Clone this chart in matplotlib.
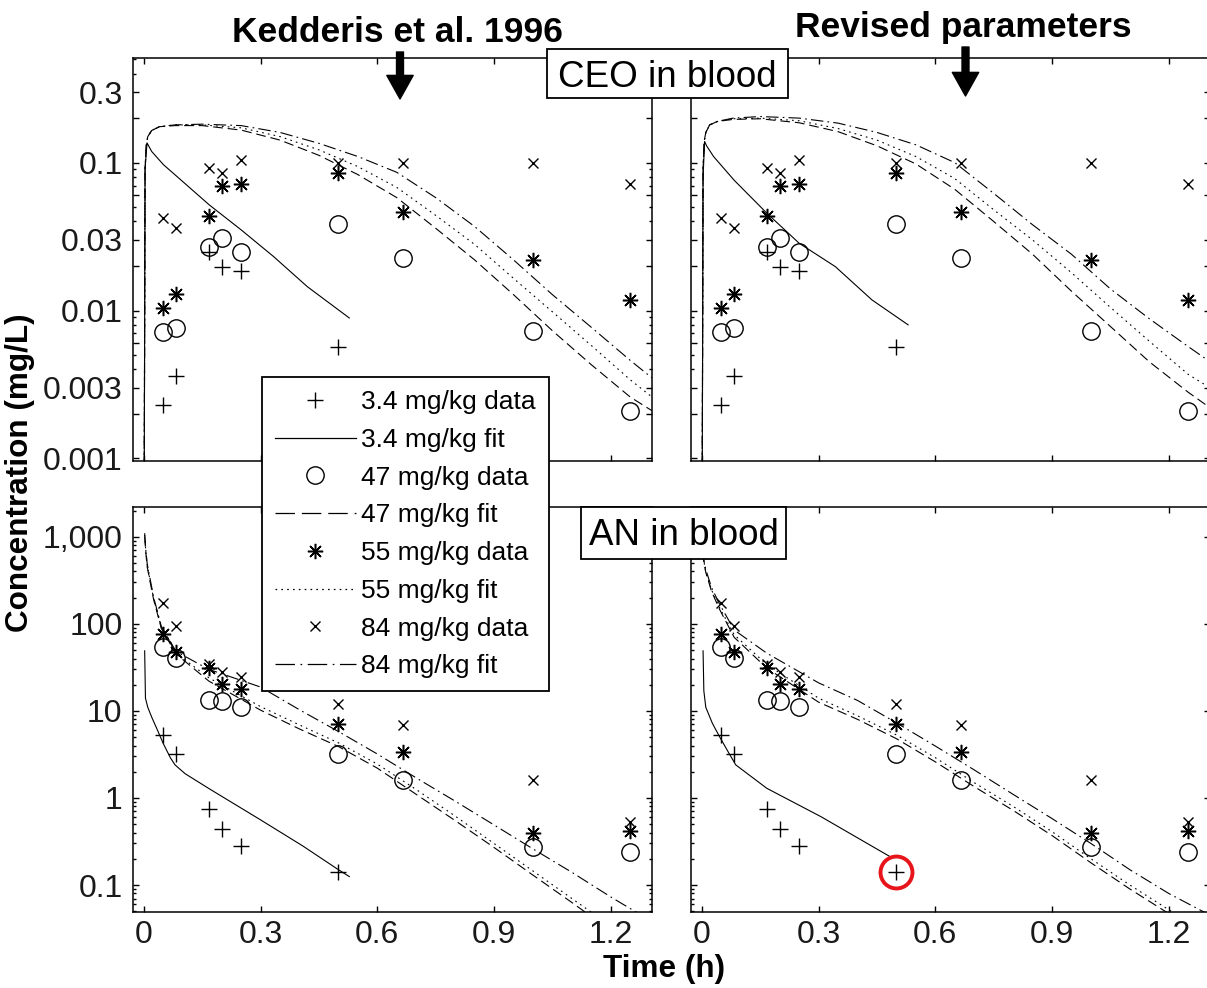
import numpy as np
import matplotlib
matplotlib.use('Agg')
import matplotlib.pyplot as plt
import matplotlib.patches as mpatches
from matplotlib.lines import Line2D
from matplotlib.ticker import LogLocator, NullFormatter

# sampling times of the measured data (h)
t_data = [0.05, 0.083, 0.167, 0.2, 0.25, 0.5, 0.667, 1.0, 1.25]

# CEO in blood, measured (mg/L)
ceo_34 = [0.0023, 0.0036, 0.025, 0.0198, 0.0186, 0.0057]
ceo_47 = [0.0072, 0.0076, 0.027, 0.031, 0.0248, 0.0384, 0.0226, 0.0073, 0.0021]
ceo_55 = [0.0104, 0.013, 0.0437, 0.069, 0.0714, 0.085, 0.0462, 0.022, 0.0118]
ceo_84 = [0.042, 0.036, 0.092, 0.085, 0.104, 0.099, 0.1, 0.1, 0.0714]

# AN in blood, measured (mg/L)
an_34 = [5.26, 3.24, 0.746, 0.44, 0.283, 0.14]
an_47 = [54, 40.7, 13.4, 12.9, 11.1, 3.18, 1.63, 0.276, 0.242]
an_55 = [76.8, 47.3, 31.3, 20.6, 17.7, 7.16, 3.38, 0.393, 0.42]
an_84 = [174, 95.7, 34.9, 28, 24.4, 12.1, 6.85, 1.63, 0.53]

# ---- model fits, Kedderis et al. 1996 parameters ----
t_ceo34_k = [0, 0.003, 0.008, 0.02, 0.05, 0.095, 0.168, 0.25, 0.333, 0.42, 0.5, 0.528]
ceo34_k = [1e-4, 0.09, 0.136, 0.119, 0.097, 0.0764, 0.0518, 0.0351, 0.0232, 0.0145, 0.0101, 0.0089]

t_ceo = [0, 0.003, 0.006, 0.01, 0.02, 0.04, 0.08, 0.15, 0.25, 0.35, 0.45, 0.55,
         0.65, 0.75, 0.85, 0.95, 1.05, 1.15, 1.25, 1.306]
ceo47_k = [1e-4, 0.09, 0.13, 0.15, 0.165, 0.175, 0.178, 0.178, 0.166, 0.142, 0.112, 0.083,
           0.058, 0.036, 0.022, 0.0128, 0.0073, 0.0043, 0.0026, 0.0021]
ceo55_k = [1e-4, 0.09, 0.13, 0.15, 0.165, 0.175, 0.18, 0.18, 0.172, 0.15, 0.122, 0.094,
           0.068, 0.044, 0.028, 0.0165, 0.0098, 0.0058, 0.0034, 0.0026]
ceo84_k = [1e-4, 0.09, 0.13, 0.15, 0.165, 0.175, 0.18, 0.182, 0.178, 0.16, 0.135, 0.11,
           0.086, 0.058, 0.037, 0.022, 0.0128, 0.0077, 0.0046, 0.0035]

t_an34_k = [0.002, 0.004, 0.01, 0.02, 0.035, 0.05, 0.068, 0.08, 0.106, 0.17, 0.3, 0.409, 0.5, 0.528]
an34_k = [49, 14, 11, 8.5, 6.0, 4.2, 2.9, 2.4, 1.9, 1.26, 0.56, 0.28, 0.15, 0.125]

t_an_k = [0.002, 0.005, 0.0085, 0.025, 0.045, 0.083, 0.167, 0.3, 0.4, 0.5, 0.6, 0.7,
          0.8, 0.9, 1.0, 1.1, 1.2, 1.306]
an47_k = [1000, 650, 450, 190, 88, 45, 22, 10.2, 6.2, 3.9, 2.2, 1.1,
          0.55, 0.27, 0.13, 0.063, 0.03, 0.014]
an55_k = [1050, 680, 470, 195, 90, 46, 24, 11.2, 6.9, 4.3, 2.45, 1.25,
          0.62, 0.3, 0.145, 0.07, 0.034, 0.016]
an84_k = [1100, 700, 490, 202, 93, 48, 30, 18.8, 10.3, 5.8, 3.2, 1.7,
          0.92, 0.49, 0.26, 0.14, 0.073, 0.038]

# ---- model fits, revised parameters ----
t_ceo34_r = [0, 0.003, 0.007, 0.012, 0.03, 0.083, 0.167, 0.25, 0.343, 0.437, 0.53]
ceo34_r = [1e-4, 0.08, 0.139, 0.13, 0.11, 0.076, 0.0455, 0.0285, 0.0198, 0.0118, 0.008]

ceo47_r = [1e-4, 0.09, 0.14, 0.16, 0.18, 0.19, 0.196, 0.198, 0.186, 0.162, 0.13, 0.098,
           0.066, 0.04, 0.024, 0.0135, 0.0078, 0.0045, 0.0028, 0.0022]
ceo55_r = [1e-4, 0.09, 0.14, 0.16, 0.18, 0.19, 0.198, 0.2, 0.192, 0.17, 0.142, 0.11,
           0.078, 0.048, 0.03, 0.018, 0.0105, 0.0062, 0.0037, 0.003]
ceo84_r = [1e-4, 0.09, 0.14, 0.16, 0.18, 0.19, 0.2, 0.205, 0.2, 0.185, 0.16, 0.132,
           0.1, 0.062, 0.038, 0.024, 0.014, 0.0088, 0.0057, 0.0045]

t_an34_r = [0.003, 0.005, 0.01, 0.027, 0.046, 0.069, 0.087, 0.167, 0.306, 0.49]
an34_r = [49, 17, 11, 7.2, 5.0, 3.3, 2.4, 1.29, 0.61, 0.204]

t_an_r = [0.002, 0.005, 0.01, 0.025, 0.045, 0.083, 0.167, 0.3, 0.4, 0.5, 0.6, 0.7,
          0.8, 0.9, 1.0, 1.1, 1.2, 1.306]
an47_r = [660, 510, 390, 235, 148, 70, 31, 12.6, 8.0, 4.8, 2.6, 1.35,
          0.72, 0.37, 0.18, 0.09, 0.047, 0.024]
an55_r = [680, 530, 400, 245, 155, 75, 34, 14, 8.8, 5.3, 2.9, 1.5,
          0.8, 0.41, 0.2, 0.1, 0.052, 0.027]
an84_r = [700, 550, 420, 260, 170, 85, 46, 21, 13.2, 7.3, 3.95, 2.1,
          1.1, 0.58, 0.3, 0.15, 0.08, 0.045]

x_ticks = [0, 0.3, 0.6, 0.9, 1.2]
x_ticklabels = ['0', '0.3', '0.6', '0.9', '1.2']
ceo_ticks = [0.001, 0.002, 0.003, 0.006, 0.01, 0.02, 0.03, 0.06, 0.1, 0.2, 0.3]
ceo_ticklabels = ['0.001', '', '0.003', '', '0.01', '', '0.03', '', '0.1', '', '0.3']
an_ticks = [0.1, 1, 10, 100, 1000]
an_ticklabels = ['0.1', '1', '10', '100', '1,000']

plt.rcParams['font.family'] = ['Liberation Sans', 'DejaVu Sans']
plt.rcParams['lines.scale_dashes'] = False

W, H = 1207, 988
fig = plt.figure(figsize=(W / 100, H / 100), dpi=100)


def px_box(x0, y0, x1, y1):
    return [x0 / W, 1 - y1 / H, (x1 - x0) / W, (y1 - y0) / H]


ls_fit = {'3.4': '-', '47': (0, (7, 3.5)), '55': (0, (1.2, 3)), '84': (0, (9, 3, 1.2, 3))}
mk = {
    '3.4': dict(marker='+', ms=12, mew=1.0, mec='k', mfc='none', ls='none'),
    '47': dict(marker='o', ms=12.5, mew=1.0, mec='k', mfc='none', ls='none'),
    '55': dict(marker=(8, 2, 0), ms=11, mew=1.1, mec='k', mfc='k', ls='none'),
    '84': dict(marker='x', ms=7, mew=1.0, mec='k', mfc='none', ls='none'),
}


def style_axes(ax, top_row, left_col):
    ax.set_xlim(-0.028, 1.306)
    ax.set_yscale('log')
    if top_row:
        ax.set_ylim(0.00096, 0.51)
        ax.set_yticks(ceo_ticks, labels=ceo_ticklabels if left_col else [''] * len(ceo_ticks))
    else:
        ax.set_ylim(0.049, 2200)
        ax.set_yticks(an_ticks, labels=an_ticklabels if left_col else [''] * len(an_ticks))
    ax.yaxis.set_minor_locator(LogLocator(base=10, subs=np.arange(2, 10), numticks=20))
    ax.yaxis.set_minor_formatter(NullFormatter())
    ax.set_xticks(x_ticks, labels=x_ticklabels if not top_row else [''] * len(x_ticks))
    ax.tick_params(which='both', direction='in', top=True, right=True, width=1.0, colors='k')
    ax.tick_params(which='major', length=4.5, labelsize=23, labelcolor='#1a1a1a')
    ax.tick_params(which='minor', length=2.2)
    ax.tick_params(axis='x', pad=5.5)
    ax.tick_params(axis='y', pad=7.5)
    for s in ax.spines.values():
        s.set_linewidth(1.1)
        s.set_color('k')


def draw(ax, d34, d47, d55, d84, t34, f34, tf, f47, f55, f84):
    lw = 0.8
    ax.plot(t34, f34, color='k', lw=lw, ls=ls_fit['3.4'])
    ax.plot(tf, f47, color='k', lw=lw, ls=ls_fit['47'])
    ax.plot(tf, f55, color='k', lw=lw, ls=ls_fit['55'])
    ax.plot(tf, f84, color='k', lw=lw, ls=ls_fit['84'])
    ax.plot(t_data[:len(d34)], d34, **mk['3.4'])
    ax.plot(t_data, d47, **mk['47'])
    ax.plot(t_data, d55, **mk['55'])
    ax.plot(t_data, d84, **mk['84'])


ax_tl = fig.add_axes(px_box(133, 58, 652, 461))
ax_tr = fig.add_axes(px_box(691, 58, 1210, 461))
ax_bl = fig.add_axes(px_box(133, 507, 652, 912))
ax_br = fig.add_axes(px_box(691, 507, 1210, 912))

draw(ax_tl, ceo_34, ceo_47, ceo_55, ceo_84, t_ceo34_k, ceo34_k, t_ceo, ceo47_k, ceo55_k, ceo84_k)
draw(ax_tr, ceo_34, ceo_47, ceo_55, ceo_84, t_ceo34_r, ceo34_r, t_ceo, ceo47_r, ceo55_r, ceo84_r)
draw(ax_bl, an_34, an_47, an_55, an_84, t_an34_k, an34_k, t_an_k, an47_k, an55_k, an84_k)
draw(ax_br, an_34, an_47, an_55, an_84, t_an34_r, an34_r, t_an_r, an47_r, an55_r, an84_r)

# red ring around the 0.5 h point of the low dose, revised model
ax_br.plot(t_data[5], an_34[5], marker='o', ms=23, mfc='none', mec='#e8141b', mew=2.8, ls='none')

style_axes(ax_tl, True, True)
style_axes(ax_tr, True, False)
style_axes(ax_bl, False, True)
style_axes(ax_br, False, False)

# column headers with arrows
fig.text(397 / W, 1 - 42 / H, 'Kedderis et al. 1996', ha='center', va='baseline',
         fontsize=25.5, fontweight='bold')
fig.text(963 / W, 1 - 37 / H, 'Revised parameters', ha='center', va='baseline',
         fontsize=25.5, fontweight='bold')
for xa, ya, yb in [(400, 52, 99), (965.5, 47, 96)]:
    fig.add_artist(mpatches.FancyArrowPatch(
        (xa / W, 1 - ya / H), (xa / W, 1 - yb / H), transform=fig.transFigure,
        arrowstyle='simple,head_length=0.85,head_width=0.95,tail_width=0.25',
        mutation_scale=20, color='k', shrinkA=0, shrinkB=0, zorder=6))

# boxed row labels
for (x0, y0, x1, y1), txt, base in [((547, 49, 788, 98), 'CEO in blood', 87),
                                     ((581, 507, 786, 559), 'AN in blood', 545)]:
    r = px_box(x0, y0, x1, y1)
    fig.add_artist(mpatches.Rectangle((r[0], r[1]), r[2], r[3], transform=fig.transFigure,
                                      fc='white', ec='k', lw=1.3, zorder=4))
    fig.text((x0 + x1) / 2 / W, 1 - base / H, txt, ha='center', va='baseline',
             fontsize=26.5, zorder=5)

# shared axis labels
fig.text(20 / W, 1 - 473 / H, 'Concentration (mg/L)', rotation=90, ha='center', va='center',
         fontsize=22.7, fontweight='bold')
fig.text(664 / W, 1 - 969 / H, 'Time (h)', ha='center', va='center',
         fontsize=22.7, fontweight='bold')

# legend
handles = [
    Line2D([], [], **mk['3.4']),
    Line2D([], [], color='k', lw=0.9, ls=ls_fit['3.4']),
    Line2D([], [], **mk['47']),
    Line2D([], [], color='k', lw=0.9, ls=(0, (14, 5))),
    Line2D([], [], **mk['55']),
    Line2D([], [], color='k', lw=0.9, ls=ls_fit['55']),
    Line2D([], [], **mk['84']),
    Line2D([], [], color='k', lw=0.9, ls=(0, (14, 4, 1.2, 4))),
]
labels = ['3.4 mg/kg data', '3.4 mg/kg fit', '47 mg/kg data', '47 mg/kg fit',
          '55 mg/kg data', '55 mg/kg fit', '84 mg/kg data', '84 mg/kg fit']
leg = fig.legend(handles, labels, loc='upper left', bbox_to_anchor=(262 / W, 1 - 377 / H),
                 bbox_transform=fig.transFigure, borderaxespad=0, fontsize=19,
                 frameon=True, fancybox=False, framealpha=1, edgecolor='k',
                 borderpad=0.5, labelspacing=0.52, handlelength=3.05, handletextpad=0.2,
                 numpoints=1)
leg.get_frame().set_linewidth(1.3)

fig.savefig('out.png', dpi=100)
